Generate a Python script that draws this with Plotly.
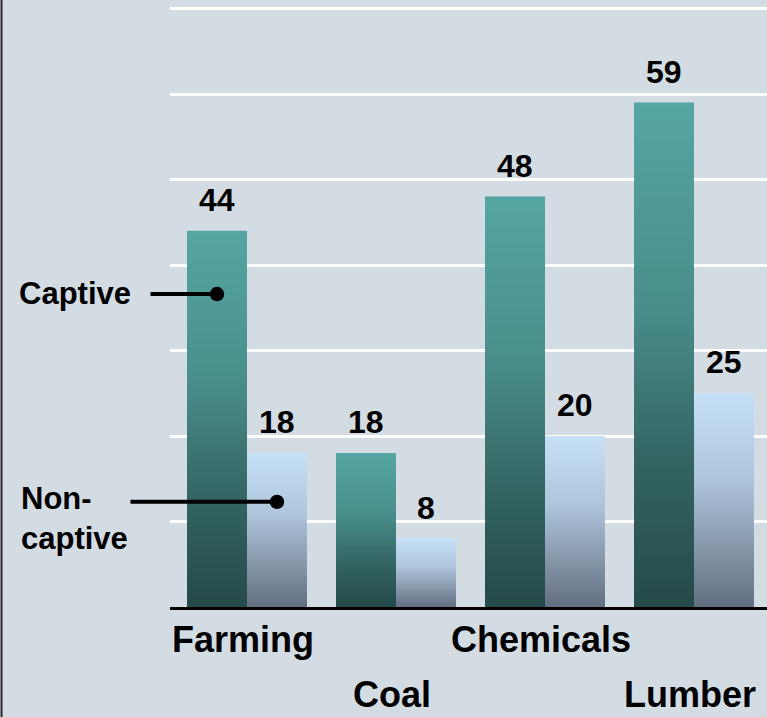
import plotly.graph_objects as go

# ---- data -------------------------------------------------------------
industries = ["Farming", "Coal", "Chemicals", "Lumber"]
captive = [44, 18, 48, 59]
noncaptive = [18, 8, 20, 25]

# ---- styling ----------------------------------------------------------
FONT = "Liberation Sans, Arial, sans-serif"
BG = "#d4dce3"
# bottom -> top colour stops for each series
CAPTIVE_STOPS = [(0.0, (36, 74, 73)), (0.3, (52, 102, 100)),
                 (0.6, (73, 142, 139)), (1.0, (85, 166, 163))]
NONCAP_STOPS = [(0.0, (98, 111, 128)), (0.3, (137, 154, 174)),
                (0.6, (174, 197, 220)), (1.0, (198, 224, 248))]
N_SEG = 80  # slices per bar used to build the vertical gradient


def lerp_color(stops, t):
    for (t0, c0), (t1, c1) in zip(stops[:-1], stops[1:]):
        if t <= t1:
            f = (t - t0) / (t1 - t0) if t1 > t0 else 0
            return "rgb(%d,%d,%d)" % tuple(round(a + (b - a) * f) for a, b in zip(c0, c1))
    return "rgb(%d,%d,%d)" % stops[-1][1]


def gradient_bar(values, stops, group):
    xs, bases, heights, colors = [], [], [], []
    for i, v in enumerate(values):
        step = v / N_SEG
        for k in range(N_SEG):
            xs.append(i)
            bases.append(k * step)
            # slight overlap hides hairline seams between slices
            heights.append(step * 1.6 if k < N_SEG - 1 else step)
            colors.append(lerp_color(stops, (k + 0.5) / N_SEG))
    return go.Bar(x=xs, y=heights, base=bases, offsetgroup=group,
                  marker=dict(color=colors, line=dict(width=0)),
                  hoverinfo="skip", showlegend=False)


fig = go.Figure()
fig.add_trace(gradient_bar(captive, CAPTIVE_STOPS, "captive"))
fig.add_trace(gradient_bar(noncaptive, NONCAP_STOPS, "noncaptive"))

annotations = []
# value labels above each bar
offset = 0.2013
for i in range(len(industries)):
    for dx, v in ((-offset, captive[i]), (offset, noncaptive[i])):
        annotations.append(dict(x=i + dx, y=v, xref="x", yref="y",
                                text="<b>%d</b>" % v,
                                showarrow=False, yanchor="bottom", yshift=11,
                                font=dict(family=FONT, size=32, color="black")))

# staggered category labels
for i, name in enumerate(industries):
    annotations.append(dict(x=i, y=0.0773 if i % 2 == 0 else 0.0,
                            xref="x", yref="paper", text="<b>%s</b>" % name,
                            showarrow=False, yanchor="bottom", xshift=-4,
                            font=dict(family=FONT, size=36, color="black")))

# series call-outs
annotations += [
    dict(x=-offset, y=36.6, xref="x", yref="y", text="", showarrow=True,
         ax=-68, ay=0, arrowhead=6, arrowsize=0.9, arrowwidth=4,
         arrowcolor="black", standoff=0, startstandoff=0),
    dict(x=offset, y=12.3, xref="x", yref="y", text="", showarrow=True,
         ax=-148, ay=0, arrowhead=6, arrowsize=0.9, arrowwidth=4,
         arrowcolor="black", standoff=0, startstandoff=0),
    dict(x=17 / 767, y=36.7, xref="paper", yref="y", text="<b>Captive</b>",
         showarrow=False, xanchor="left", yanchor="middle",
         font=dict(family=FONT, size=31, color="black")),
    dict(x=19 / 767, y=10.3, xref="paper", yref="y", text="<b>Non-<br>captive</b>",
         showarrow=False, xanchor="left", yanchor="middle", align="left",
         font=dict(family=FONT, size=31, color="black")),
]

fig.update_layout(
    width=767, height=717,
    margin=dict(l=0, r=0, t=0, b=0),
    paper_bgcolor=BG, plot_bgcolor=BG,
    barmode="group", bargap=0.195, bargroupgap=0,
    showlegend=False,
    annotations=annotations,
    shapes=[dict(type="line", xref="paper", yref="paper", x0=0.002, x1=0.002,
                 y0=0, y1=1, line=dict(color="#2a2a2a", width=2))],
    xaxis=dict(domain=[170 / 767, 1], range=[-77 / 149, 520 / 149],
               showticklabels=False, ticks="", showgrid=False, zeroline=False,
               showline=True, linecolor="black", linewidth=3),
    yaxis=dict(domain=[110 / 717, 1], range=[0, 607 / 8.55],
               showticklabels=False, ticks="", dtick=10, showgrid=True,
               gridcolor="white", gridwidth=3, zeroline=False, showline=False),
)

fig.write_html("out.html")
